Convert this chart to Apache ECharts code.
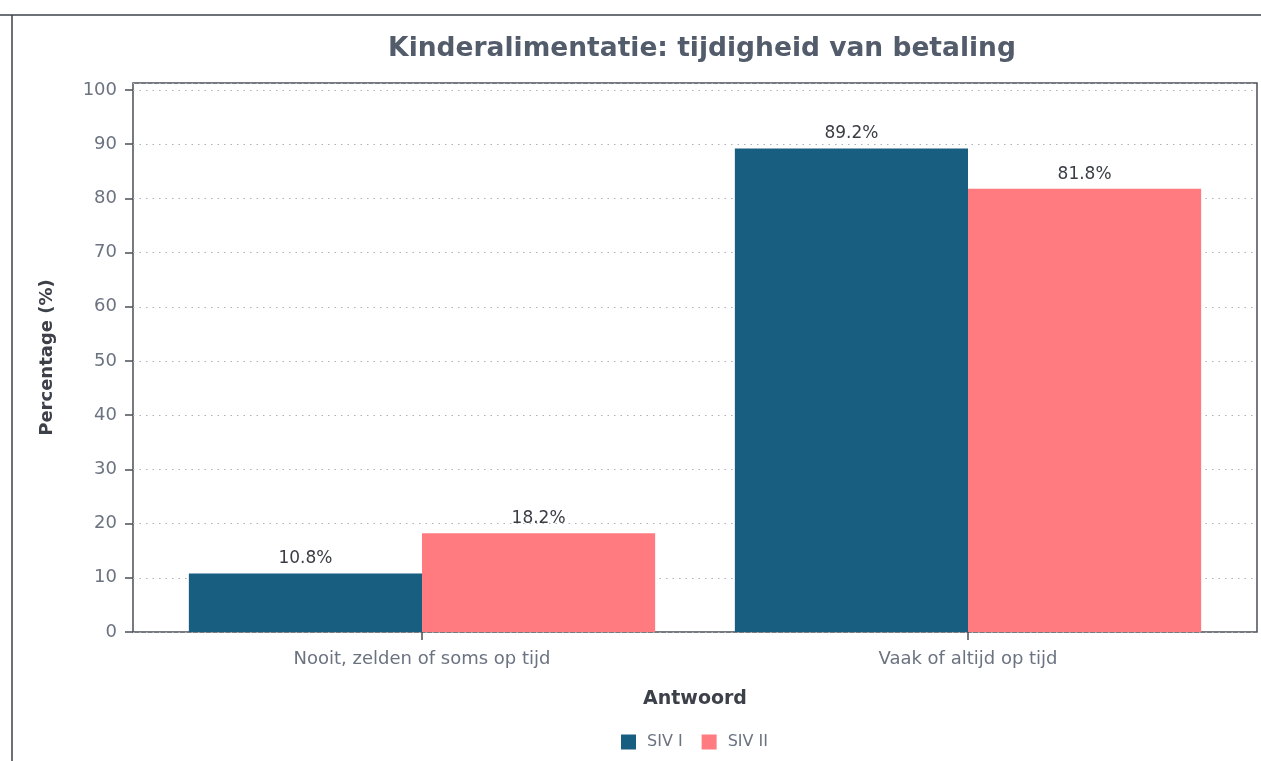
<!DOCTYPE html>
<html>
<head>
<meta charset="utf-8">
<script src="https://cdn.jsdelivr.net/npm/echarts@6/dist/echarts.min.js"></script>
<style>
  html, body { margin: 0; padding: 0; background: #fff; }
  #chart { width: 1261px; height: 761px; }
</style>
</head>
<body>
<div id="chart"></div>
<script>
// data
var categories = ["Nooit, zelden of soms op tijd", "Vaak of altijd op tijd"];
var seriesNames = ["SIV I", "SIV II"];
var sivI = [10.8, 89.2];
var sivII = [18.2, 81.8];
var yTicks = [0, 100, 10]; // min, max label, step

var colors = ["#175e80", "#ff7b7f"];
var font = "DejaVu Sans";

var chart = echarts.init(document.getElementById("chart"));
var yMax = 101.3;

chart.setOption({
  animation: false,
  textStyle: { fontFamily: font },
  title: {
    text: "Kinderalimentatie: tijdigheid van betaling",
    left: 697,
    top: 31,
    textAlign: "center",
    textStyle: { fontSize: 26.5, fontWeight: "bold", color: "#535c6b", fontFamily: font }
  },
  legend: {
    bottom: 11,
    left: 621,
    padding: 0,
    itemWidth: 15,
    itemHeight: 15,
    itemGap: 19,
    icon: "rect",
    textStyle: { fontSize: 16, color: "#6b7280", fontFamily: font, padding: [0, 0, 0, 6] },
    data: seriesNames
  },
  // outer framed panel, draws the grid lines and y axis
  grid: [
    { left: 133, right: 4, top: 83, bottom: 129, show: true, borderColor: "#4b4f57", borderWidth: 1.5 },
    { left: 149, right: 20, top: 83, bottom: 129 }
  ],
  xAxis: [
    { gridIndex: 0, type: "value", min: 0, max: 1, show: false },
    {
      gridIndex: 1,
      type: "category",
      data: categories,
      name: "Antwoord",
      nameLocation: "middle",
      nameGap: 58,
      nameTextStyle: { fontSize: 19, fontWeight: "bold", color: "#3c4049", fontFamily: font },
      axisLine: { show: false },
      axisTick: { show: true, alignWithLabel: true, length: 8, lineStyle: { color: "#4b4f57", width: 1.5 } },
      axisLabel: { fontSize: 18, color: "#6b7280", margin: 18, fontFamily: font }
    }
  ],
  yAxis: [
    {
      gridIndex: 0,
      type: "value",
      min: yTicks[0],
      max: yMax,
      interval: yTicks[2],
      name: "Percentage (%)",
      nameLocation: "middle",
      nameGap: 77,
      nameTextStyle: { fontSize: 18, fontWeight: "bold", color: "#3c4049", fontFamily: font },
      axisLine: { show: false },
      axisTick: { show: true, length: 8, lineStyle: { color: "#4b4f57", width: 1.5 } },
      axisLabel: {
        fontSize: 18, color: "#6b7280", margin: 16, showMaxLabel: false, fontFamily: font,
        formatter: function (v) { return v <= yTicks[1] && v % yTicks[2] === 0 ? v : ""; }
      },
      splitLine: { show: true, lineStyle: { color: "#aeb2b8", type: [1.5, 5], width: 1.2 } }
    },
    { gridIndex: 1, type: "value", min: yTicks[0], max: yMax, show: false, splitLine: { show: false } }
  ],
  graphic: [
    { type: "line", shape: { x1: 0, y1: 15, x2: 1261, y2: 15 }, style: { stroke: "#3d4047", lineWidth: 1.5 } },
    { type: "line", shape: { x1: 12, y1: 15, x2: 12, y2: 761 }, style: { stroke: "#3d4047", lineWidth: 1.5 } }
  ],
  series: [sivI, sivII].map(function (vals, i) {
    return {
      name: seriesNames[i],
      type: "bar",
      xAxisIndex: 1,
      yAxisIndex: 1,
      barGap: "0%",
      barCategoryGap: "14.6%",
      itemStyle: { color: colors[i] },
      label: {
        show: true,
        position: "top",
        distance: 6,
        fontSize: 17,
        color: "#3a3d44",
        fontFamily: font,
        formatter: function (p) { return p.value.toFixed(1) + "%"; }
      },
      data: vals
    };
  })
});
</script>
</body>
</html>
